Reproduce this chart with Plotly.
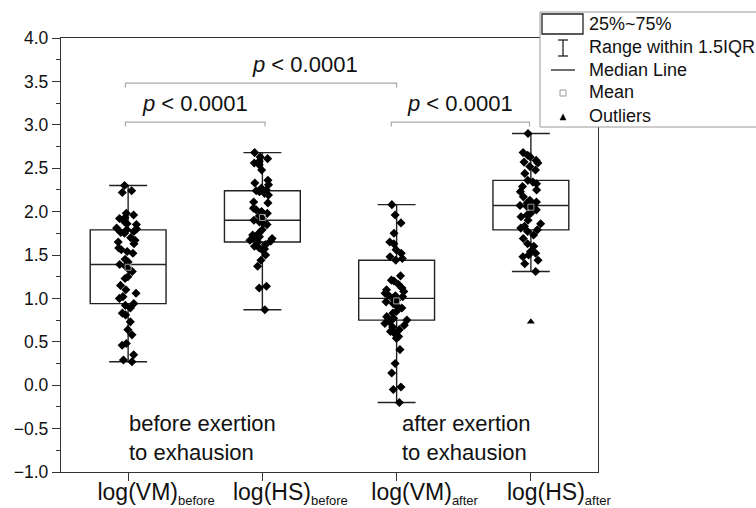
import plotly.graph_objects as go
import numpy as np

# ---------------- data ----------------
categories = ["log(VM)<sub>before</sub>", "log(HS)<sub>before</sub>",
              "log(VM)<sub>after</sub>", "log(HS)<sub>after</sub>"]
positions = [1, 2, 3, 4]

vm_before = [2.30, 2.24, 2.22, 1.98, 1.96, 1.93, 1.92, 1.88, 1.86, 1.85, 1.81, 1.80,
             1.79, 1.77, 1.76, 1.75, 1.70, 1.67, 1.65, 1.63, 1.58, 1.56, 1.54, 1.52,
             1.45, 1.42, 1.39, 1.37, 1.33, 1.31, 1.25, 1.23, 1.15, 1.10, 1.06, 1.02,
             1.00, 0.94, 0.92, 0.89, 0.83, 0.81, 0.73, 0.64, 0.58, 0.48, 0.46, 0.35,
             0.29, 0.27]
hs_before = [2.68, 2.63, 2.61, 2.58, 2.56, 2.54, 2.48, 2.36, 2.33, 2.31, 2.27, 2.25,
             2.24, 2.23, 2.21, 2.19, 2.11, 2.10, 2.04, 2.02, 2.00, 1.98, 1.95, 1.92,
             1.90, 1.88, 1.86, 1.85, 1.79, 1.75, 1.73, 1.71, 1.69, 1.68, 1.67, 1.66,
             1.65, 1.62, 1.60, 1.58, 1.57, 1.56, 1.50, 1.44, 1.37, 1.14, 1.12, 0.87]
vm_after = [2.08, 1.96, 1.87, 1.75, 1.65, 1.63, 1.56, 1.52, 1.48, 1.46, 1.44, 1.26,
            1.21, 1.20, 1.16, 1.12, 1.10, 1.08, 1.06, 1.04, 1.03, 1.02, 1.00, 0.98,
            0.96, 0.94, 0.90, 0.89, 0.85, 0.83, 0.79, 0.77, 0.75, 0.73, 0.71, 0.69,
            0.67, 0.64, 0.62, 0.60, 0.56, 0.54, 0.41, 0.25, 0.14, -0.02, -0.05, -0.20]
hs_after = [2.90, 2.68, 2.65, 2.63, 2.59, 2.57, 2.56, 2.52, 2.48, 2.44, 2.36, 2.34,
            2.32, 2.29, 2.25, 2.23, 2.17, 2.13, 2.11, 2.10, 2.08, 2.07, 2.06, 2.04,
            2.02, 1.98, 1.96, 1.94, 1.90, 1.86, 1.83, 1.81, 1.79, 1.77, 1.73, 1.69,
            1.63, 1.60, 1.54, 1.52, 1.50, 1.48, 1.44, 1.40, 1.31]
series = [vm_before, hs_before, vm_after, hs_after]

# box statistics as drawn in the reference
q1_vals = [0.94, 1.65, 0.75, 1.79]
median_vals = [1.39, 1.90, 1.00, 2.07]
q3_vals = [1.79, 2.24, 1.44, 2.36]
lower_whisker = [0.27, 0.87, -0.20, 1.31]
upper_whisker = [2.30, 2.68, 2.08, 2.90]
outlier_pos = [4]
outlier_vals = [0.73]

p_labels = ["p &lt; 0.0001", "p &lt; 0.0001", "p &lt; 0.0001"]
group_notes = ["before exertion<br>to exhausion", "after exertion<br>to exhausion"]
legend_labels = ["25%~75%", "Range within 1.5IQR", "Median Line", "Mean", "Outliers"]

FONT = "Liberation Sans, Arial, sans-serif"
BOXW = 0.565

fig = go.Figure()

for pos, q1, med, q3, lo, hi in zip(positions, q1_vals, median_vals, q3_vals,
                                     lower_whisker, upper_whisker):
    fig.add_trace(go.Box(x=[pos], q1=[q1], median=[med], q3=[q3],
                         lowerfence=[lo], upperfence=[hi],
                         width=BOXW, whiskerwidth=0.5, boxpoints=False,
                         line=dict(color="#222222", width=1.4),
                         fillcolor="rgba(0,0,0,0)", hoverinfo="skip",
                         showlegend=False))

# means (gray open squares)
fig.add_trace(go.Scatter(x=positions, y=[float(np.mean(s)) for s in series],
                         mode="markers",
                         marker=dict(symbol="square-open", size=6, color="#9a9a9a",
                                     line=dict(width=1)),
                         hoverinfo="skip", showlegend=False))

# jittered raw points
for pos, vals in zip(positions, series):
    fig.add_trace(go.Box(x=[pos] * len(vals), y=vals, boxpoints="all", jitter=0.36,
                         pointpos=0, width=BOXW,
                         marker=dict(symbol="diamond", size=7, color="black"),
                         line=dict(color="rgba(0,0,0,0)", width=0),
                         fillcolor="rgba(0,0,0,0)", hoverinfo="skip",
                         showlegend=False))

# outliers
fig.add_trace(go.Scatter(x=outlier_pos, y=outlier_vals, mode="markers",
                         marker=dict(symbol="triangle-up", size=7, color="black"),
                         hoverinfo="skip", showlegend=False))

shapes = []
annotations = []

# significance brackets
brackets = [(0.98, 2.02, 3.03), (0.98, 3.0, 3.48), (2.96, 3.99, 3.03)]
for x0, x1, yb in brackets:
    shapes.append(dict(type="path", xref="x", yref="y",
                       path=f"M{x0},{yb-0.05} L{x0},{yb} L{x1},{yb} L{x1},{yb-0.05}",
                       line=dict(color="#a8a8a8", width=1.2)))
p_pos = [(1.50, 3.24), (2.32, 3.69), (3.47, 3.24)]
for (px, py), lab in zip(p_pos, p_labels):
    txt = "<i>p</i>" + lab[1:]
    annotations.append(dict(x=px, y=py, xref="x", yref="y", text=txt, showarrow=False,
                            font=dict(family=FONT, size=22, color="#111111"),
                            xanchor="center", yanchor="middle"))

for gx, note in zip([0.99, 3.025], group_notes):
    annotations.append(dict(x=gx, y=-0.61, xref="x", yref="y", text=note,
                            showarrow=False, align="left", xanchor="left",
                            yanchor="middle",
                            font=dict(family=FONT, size=22, color="#111111")))

# custom legend (paper coordinates: plot area x 61..598 px, y 38..472 px)
def px_x(p):
    return (p - 61) / 537.0

def px_y(p):
    return (472 - p) / 434.0

shapes.append(dict(type="rect", xref="paper", yref="paper", layer="above",
                   x0=px_x(540), x1=px_x(775), y0=px_y(127), y1=px_y(12),
                   fillcolor="white", line=dict(color="#9a9a9a", width=1)))
shapes.append(dict(type="rect", xref="paper", yref="paper", layer="above",
                   x0=px_x(542), x1=px_x(583), y0=px_y(34), y1=px_y(14),
                   fillcolor="white", line=dict(color="#222222", width=1.3)))
for seg in [((563, 40), (563, 56)), ((558, 40), (568, 40)), ((558, 56), (568, 56)),
            ((551, 70), (575, 70))]:
    (xa, ya), (xb, yb) = seg
    shapes.append(dict(type="line", xref="paper", yref="paper", layer="above",
                       x0=px_x(xa), x1=px_x(xb), y0=px_y(ya), y1=px_y(yb),
                       line=dict(color="#222222", width=1.3)))
shapes.append(dict(type="rect", xref="paper", yref="paper", layer="above",
                   x0=px_x(560), x1=px_x(566), y0=px_y(96), y1=px_y(90),
                   fillcolor="white", line=dict(color="#9a9a9a", width=1)))
shapes.append(dict(type="path", xref="paper", yref="paper", layer="above",
                   path=(f"M{px_x(560)},{px_y(120)} L{px_x(566)},{px_y(120)} "
                         f"L{px_x(563)},{px_y(114)} Z"),
                   fillcolor="black", line=dict(color="black", width=0.5)))
for lab, ycen in zip(legend_labels, [24, 47, 70, 92, 116]):
    annotations.append(dict(x=px_x(587), y=px_y(ycen), xref="paper", yref="paper",
                            text=lab, showarrow=False, xanchor="left",
                            yanchor="middle",
                            font=dict(family=FONT, size=18, color="#111111")))

ticktext = [c.replace("<sub>", "<sub><span style='font-size:13px'>")
             .replace("</sub>", "</span></sub>") for c in categories]

fig.update_layout(
    width=756, height=508,
    margin=dict(l=61, r=158, t=38, b=36),
    paper_bgcolor="white", plot_bgcolor="white",
    showlegend=False, boxmode="overlay",
    shapes=shapes, annotations=annotations,
    font=dict(family=FONT, color="#111111"),
)
fig.update_xaxes(range=[0.5, 4.5], tickvals=positions, ticktext=ticktext,
                 ticks="outside", ticklen=8, tickwidth=1.3, tickcolor="#333333",
                 showline=True, linecolor="#333333", linewidth=1.3, mirror=True,
                 showgrid=False, zeroline=False, ticklabelshift=28,
                 ticklabelstandoff=-9, automargin=False,
                 tickfont=dict(family=FONT, size=23, color="#111111"))
fig.update_yaxes(range=[-1, 4], dtick=0.5, tick0=0, tickformat=".1f",
                 ticks="outside", ticklen=8, tickwidth=1.3, tickcolor="#333333",
                 minor=dict(dtick=0.25, ticks="outside", ticklen=4,
                            tickcolor="#333333", tickwidth=1.3, showgrid=False),
                 showline=True, linecolor="#333333", linewidth=1.3, mirror=True,
                 showgrid=False, zeroline=False, automargin=False,
                 tickfont=dict(family=FONT, size=17.5, color="#111111"))

fig.write_html("out.html")
